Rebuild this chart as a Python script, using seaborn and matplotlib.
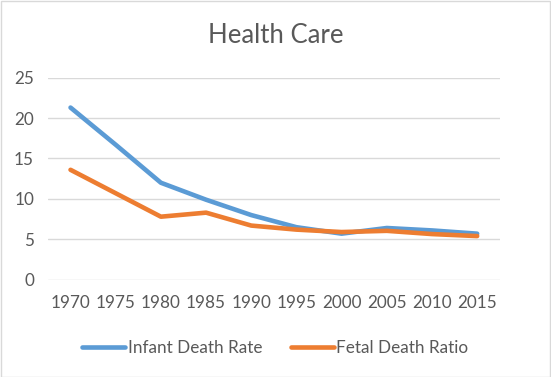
import pandas as pd
import matplotlib.pyplot as plt
import seaborn as sns

years = ['1970', '1975', '1980', '1985', '1990', '1995', '2000', '2005', '2010', '2015']
infant_death_rate = [21.3, 16.7, 12.0, 9.9, 8.0, 6.5, 5.7, 6.4, 6.1, 5.7]
fetal_death_ratio = [13.6, 10.7, 7.8, 8.3, 6.7, 6.2, 5.9, 6.05, 5.65, 5.4]

df = pd.DataFrame({
    'year': years * 2,
    'value': infant_death_rate + fetal_death_ratio,
    'series': ['Infant Death Rate'] * len(years) + ['Fetal Death Ratio'] * len(years),
})

sns.set_style('white')
plt.rcParams['font.family'] = ['Lato', 'DejaVu Sans']
grey = '#595959'

fig = plt.figure(figsize=(5.51, 3.77), dpi=100)
ax = fig.add_axes([0.087, 0.258, 0.820, 0.536])
sns.lineplot(data=df, x='year', y='value', hue='series', sort=False,
             palette={'Infant Death Rate': '#5B9BD5', 'Fetal Death Ratio': '#ED7D31'},
             linewidth=3.3, ax=ax, legend=False, zorder=3)

ax.set_xlim(-0.5, len(years) - 0.5)
ax.set_ylim(0, 25)
ax.set_yticks([0, 5, 10, 15, 20, 25])
ax.grid(axis='y', color='#D9D9D9', linewidth=1)
ax.grid(axis='x', visible=False)
for s in ax.spines.values():
    s.set_visible(False)
ax.tick_params(axis='both', length=0, labelsize=12.3, labelcolor=grey)
ax.tick_params(axis='x', pad=11)
ax.tick_params(axis='y', pad=10)
ax.set_xlabel('')
ax.set_ylabel('')

fig.suptitle('Health Care', y=0.94, fontsize=18.5, color=grey)

handles = [plt.Line2D([], [], color='#5B9BD5', linewidth=3.3, solid_capstyle='round'),
           plt.Line2D([], [], color='#ED7D31', linewidth=3.3, solid_capstyle='round')]
fig.legend(handles, ['Infant Death Rate', 'Fetal Death Ratio'], loc='center',
           bbox_to_anchor=(0.5, 0.078), ncol=2, frameon=False, fontsize=12.3,
           labelcolor=grey, handlelength=2.5, handletextpad=0.15, columnspacing=1.7)

fig.patches.append(plt.Rectangle((0.001, 0.001), 0.997, 0.997, transform=fig.transFigure,
                                 fill=False, edgecolor='#D9D9D9', linewidth=1))
fig.savefig('out.png', dpi=100)
